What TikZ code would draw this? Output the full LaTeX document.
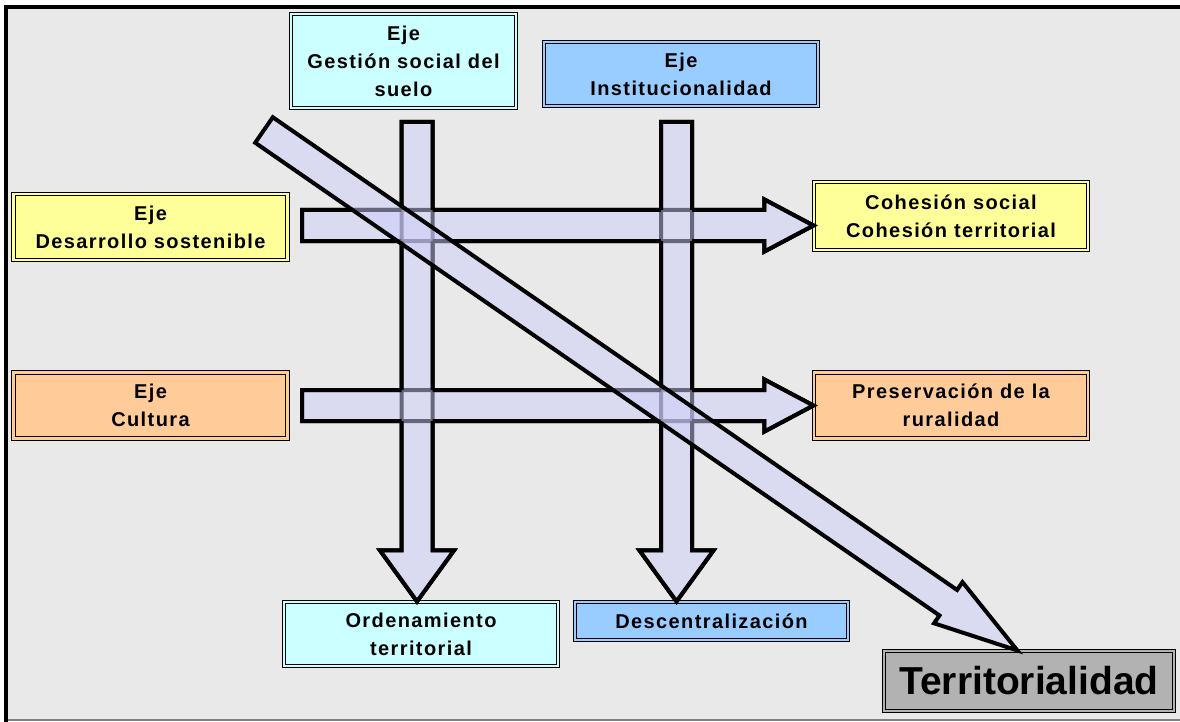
\documentclass[tikz,border=0pt]{standalone}
\usepackage{fontspec}
\setmainfont{Liberation Sans}
\newfontfamily\boxfont{Liberation Sans}[LetterSpace=7]
\usetikzlibrary{calc}
\definecolor{fondo}{RGB}{233,233,233}
\definecolor{suelocol}{RGB}{204,255,255}
\definecolor{institcol}{RGB}{153,204,255}
\definecolor{desacol}{RGB}{255,255,153}
\definecolor{cultcol}{RGB}{255,204,153}
\definecolor{terrcol}{RGB}{178,178,178}
\definecolor{flecha}{RGB}{205,205,250}
% puntos de una flecha gruesa: nombre, inicio, punta, largo y medio ancho de la cabeza
\newcommand{\flechapts}[5]{%
  \coordinate (#1-b) at ($(#3)!#4!(#2)$);
  \coordinate (#1-t) at (#3);
  \coordinate (#1-l1) at ($(#2)!15.5pt!90:(#3)$);
  \coordinate (#1-r1) at ($(#2)!15.5pt!-90:(#3)$);
  \coordinate (#1-l2) at ($(#1-b)!15.5pt!90:(#1-t)$);
  \coordinate (#1-r2) at ($(#1-b)!15.5pt!-90:(#1-t)$);
  \coordinate (#1-l3) at ($(#1-b)!#5!90:(#1-t)$);
  \coordinate (#1-r3) at ($(#1-b)!#5!-90:(#1-t)$);
}
\newcommand{\flechapath}[1]{(#1-l1) -- (#1-l2) -- (#1-l3) -- (#1-t) -- (#1-r3) -- (#1-r2) -- (#1-r1) -- cycle }

\begin{document}
\begin{tikzpicture}[x=1pt,y=-1pt,
  caja/.style={draw=black, line width=1.1pt, double=#1, double distance=2.2pt, fill=#1,
    align=center, inner sep=0pt, font=\boxfont\bfseries\fontsize{20}{28}\selectfont},
  borde/.style={line width=4pt, line join=miter},
  relleno/.style={fill=flecha, fill opacity=0.5}]
  \useasboundingbox (0,0) rectangle (1180,722);
  \fill[fondo] (6,7) rectangle (1180,720);
  \draw[gray, line width=2pt] (6,720) -- (1180,720);
  \draw[line width=4pt, line join=miter] (6,722) -- (6,7) -- (1180,7);

  % cajas
  \node[caja=suelocol, minimum width=225, minimum height=94] (suelo) at (403.5,61) {Eje\\Gestión social del\\suelo};
  \node[caja=institcol, minimum width=274, minimum height=64] (instit) at (681,74) {Eje\\Institucionalidad};
  \node[caja=desacol, minimum width=274, minimum height=66] (desa) at (150.5,227) {Eje\\Desarrollo sostenible};
  \node[caja=cultcol, minimum width=274, minimum height=66] (cult) at (150.5,405.5) {Eje\\Cultura};
  \node[caja=desacol, minimum width=274, minimum height=68] (cohes) at (951,216) {Cohesión social\\Cohesión territorial};
  \node[caja=cultcol, minimum width=274, minimum height=66] (rural) at (951,405.5) {Preservación de la\\ruralidad};
  \node[caja=suelocol, minimum width=274, minimum height=64] (orden) at (421,634) {Ordenamiento\\territorial};
  \node[caja=institcol, minimum width=273, minimum height=38] (descen) at (711.5,621) {Descentralización};
  \node[caja=terrcol, minimum width=290, minimum height=60,
    font=\bfseries\fontsize{39}{44}\selectfont] (terr) at (1029,681) {Territorialidad};

  % flechas
  \coordinate (vA) at (417,122);
  \coordinate (vB) at (676.5,122);
  \coordinate (hA) at (302,225.5);
  \coordinate (hB) at (302,405.5);
  \coordinate (dA) at (264,130);
  \coordinate (dT) at ($(terr.north west)!0.46!(terr.north east)$);
  \flechapts{fv1}{vA}{vA |- orden.north}{51pt}{37pt}
  \flechapts{fv2}{vB}{vB |- descen.north}{51pt}{37pt}
  \flechapts{fh1}{hA}{cohes.west |- hA}{49pt}{26pt}
  \flechapts{fh2}{hB}{rural.west |- hB}{49pt}{26pt}
  \flechapts{fd}{dA}{dT}{84pt}{25pt}

  \draw[borde] \flechapath{fh1} \flechapath{fh2} \flechapath{fv1} \flechapath{fv2};
  \fill[relleno] \flechapath{fh1} \flechapath{fh2} \flechapath{fv1} \flechapath{fv2};
  \begin{scope}[even odd rule]
    \clip (0,0) rectangle (1180,722) \flechapath{fv1} \flechapath{fv2};
    \draw[borde] \flechapath{fh1} \flechapath{fh2};
  \end{scope}
  \begin{scope}[even odd rule]
    \clip (0,0) rectangle (1180,722) \flechapath{fh1} \flechapath{fh2};
    \draw[borde] \flechapath{fv1} \flechapath{fv2};
  \end{scope}
  \draw[borde, relleno] \flechapath{fd};
\end{tikzpicture}
\end{document}
